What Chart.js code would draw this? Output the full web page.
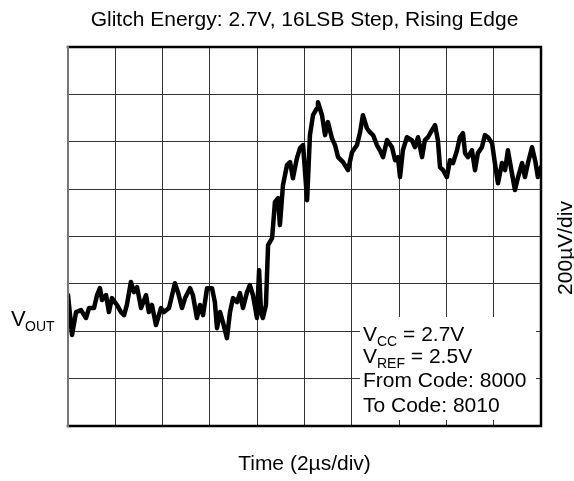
<!DOCTYPE html>
<html>
<head>
<meta charset="utf-8">
<script src="https://cdn.jsdelivr.net/npm/chart.js@4.4.1/dist/chart.umd.min.js"></script>
<style>
  html,body{margin:0;padding:0;background:#fff}
  #glitch{display:block}
</style>
</head>
<body>
<canvas id="glitch" width="574" height="481"></canvas>
<script>
// scope trace, time in us (2us/div) and output in uV above the bottom graticule line (200uV/div)
const timeUs=[0,0.17,0.34,0.55,0.76,0.89,1.10,1.23,1.35,1.44,1.61,1.73,1.86,2.07,2.24,2.37,2.49,2.66,2.79,2.92,
  3.09,3.30,3.42,3.55,3.72,3.93,4.06,4.27,4.52,4.65,4.82,4.95,5.16,5.28,5.45,5.58,5.71,5.88,6.09,6.21,
  6.30,6.43,6.55,6.72,6.85,6.98,7.15,7.27,7.40,7.57,7.69,7.82,7.99,8.08,8.16,8.24,8.37,8.46,8.63,8.75,
  8.88,8.96,9.09,9.26,9.39,9.51,9.68,9.81,9.94,10.11,10.23,10.36,10.53,10.57,10.74,10.87,10.99,11.16,11.29,11.42,
  11.63,11.84,12.01,12.22,12.35,12.47,12.64,12.77,12.90,13.06,13.19,13.32,13.49,13.70,13.83,13.95,14.04,14.16,14.33,14.54,
  14.67,14.80,14.97,15.09,15.22,15.39,15.52,15.64,15.73,15.86,16.02,16.15,16.28,16.45,16.57,16.70,16.79,16.91,17.08,17.21,
  17.33,17.50,17.63,17.76,17.93,18.05,18.18,18.35,18.48,18.60,18.77,18.90,19.03,19.20,19.32,19.45,19.62,19.75,19.87,20.0]
const voutUv=[553,384,481,489,456,498,498,553,582,532,553,481,540,511,481,468,511,608,565,586,
  498,553,481,511,426,498,481,498,603,565,498,540,582,553,456,511,468,582,582,523,
  413,481,439,371,481,540,523,561,498,565,595,553,456,658,481,456,511,764,793,945,
  962,848,1017,1101,1114,1046,1131,1173,1186,953,1228,1312,1342,1367,1312,1228,1283,1215,1186,1135,
  1114,1080,1156,1186,1240,1312,1257,1240,1228,1186,1164,1135,1207,1177,1122,1135,1051,1164,1219,1207,
  1177,1219,1135,1207,1219,1249,1270,1207,1093,1080,1051,1122,1110,1164,1219,1236,1152,1135,1164,1080,
  1152,1177,1228,1219,1194,1110,1025,1110,1080,1164,1067,996,1051,1110,1051,1110,1177,1122,1051,1093]

const titleText="Glitch Energy: 2.7V, 16LSB Step, Rising Edge"
const xLabel="Time (2µs/div)"
const yLabel="200µV/div"
const noteLines=[["V","CC"," = 2.7V"],["V","REF"," = 2.5V"],["From Code: 8000","",""],["To Code: 8010","",""]]

const points=[]
for(let i=0;i<timeUs.length;i++){
  points.push({x:timeUs[i],y:voutUv[i]})
}

const FONT="Liberation Sans, Arial, sans-serif"

// white box for the test conditions, sits on top of the graticule
const noteBox={
  id:'noteBox',
  beforeDatasetsDraw(chart){
    const ctx=chart.ctx
    ctx.save()
    ctx.fillStyle='#fff'
    ctx.fillRect(360,317,176,103)
    ctx.restore()
  }
}

// frame, labels and notes
const decor={
  id:'decor',
  afterDraw(chart){
    const ctx=chart.ctx
    const a=chart.chartArea
    ctx.save()
    ctx.lineCap='square'
    ctx.strokeStyle='#000'
    ctx.lineWidth=2.5
    ctx.beginPath()
    ctx.moveTo(a.left,a.top);ctx.lineTo(a.right,a.top);ctx.lineTo(a.right,a.bottom);ctx.lineTo(a.left,a.bottom)
    ctx.stroke()
    ctx.strokeStyle='#777'
    ctx.lineWidth=2
    ctx.beginPath()
    ctx.moveTo(a.left,a.top);ctx.lineTo(a.left,a.bottom)
    ctx.stroke()

    ctx.fillStyle='#000'
    ctx.textAlign='center'
    ctx.textBaseline='alphabetic'
    ctx.font='21px '+FONT
    ctx.fillText(titleText,(a.left+a.right)/2,26)
    ctx.fillText(xLabel,(a.left+a.right)/2,470)

    ctx.save()
    ctx.translate(566,248)
    ctx.rotate(-Math.PI/2)
    ctx.textBaseline='middle'
    ctx.fillText(yLabel,0,0)
    ctx.restore()

    // V_OUT on the left
    ctx.textAlign='left'
    ctx.font='22px '+FONT
    ctx.fillText('V',11,326)
    ctx.font='14px '+FONT
    ctx.fillText('OUT',25,331)

    const base=[341,363,387,412]
    for(let i=0;i<noteLines.length;i++){
      let x=363
      const l=noteLines[i]
      ctx.font='21px '+FONT
      ctx.fillText(l[0],x,base[i])
      x+=ctx.measureText(l[0]).width
      if(l[1]){
        ctx.font='14px '+FONT
        ctx.fillText(l[1],x,base[i]+5)
        x+=ctx.measureText(l[1]).width
        ctx.font='21px '+FONT
        ctx.fillText(l[2],x,base[i])
      }
    }
    ctx.restore()
  }
}

new Chart('glitch',{
  type:'scatter',
  data:{
    datasets:[{
      data:points,
      showLine:true,
      borderColor:'#000',
      borderWidth:4.5,
      pointRadius:0,
      tension:0,
      borderJoinStyle:'round',
      borderCapStyle:'round'
    }]
  },
  options:{
    responsive:false,
    animation:false,
    layout:{padding:{left:68,top:47,right:33,bottom:55}},
    plugins:{legend:{display:false},tooltip:{enabled:false},title:{display:false}},
    scales:{
      x:{
        type:'linear',min:0,max:20,
        ticks:{display:false,stepSize:2},
        grid:{color:'#333',lineWidth:1,drawTicks:false},
        border:{display:false}
      },
      y:{
        type:'linear',min:0,max:1600,
        ticks:{display:false,stepSize:200},
        grid:{color:'#333',lineWidth:1,drawTicks:false},
        border:{display:false}
      }
    }
  },
  plugins:[noteBox,decor]
})
</script>
</body>
</html>
